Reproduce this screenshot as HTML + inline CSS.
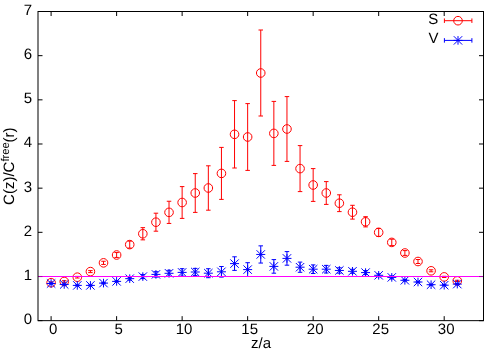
<!DOCTYPE html>
<html><head><meta charset="utf-8"><title>plot</title>
<style>html,body{margin:0;padding:0;background:#fff;}svg{display:block;will-change:transform;}text{font-family:"Liberation Sans",sans-serif;font-size:15px;fill:#000;text-rendering:geometricPrecision;}</style>
</head><body>
<svg width="500" height="350" viewBox="0 0 500 350">
<rect x="0" y="0" width="500" height="350" fill="#fff"/>
<g stroke="#000" stroke-width="1" fill="none">
<path d="M38.00,320.65h4.5 M483.50,320.65h-4.5"/>
<path d="M38.00,276.49h4.5 M483.50,276.49h-4.5"/>
<path d="M38.00,232.32h4.5 M483.50,232.32h-4.5"/>
<path d="M38.00,188.16h4.5 M483.50,188.16h-4.5"/>
<path d="M38.00,143.99h4.5 M483.50,143.99h-4.5"/>
<path d="M38.00,99.83h4.5 M483.50,99.83h-4.5"/>
<path d="M38.00,55.66h4.5 M483.50,55.66h-4.5"/>
<path d="M38.00,11.50h4.5 M483.50,11.50h-4.5"/>
<path d="M51.10,320.65v-4.5 M51.10,11.50v4.5"/>
<path d="M116.62,320.65v-4.5 M116.62,11.50v4.5"/>
<path d="M182.13,320.65v-4.5 M182.13,11.50v4.5"/>
<path d="M247.65,320.65v-4.5 M247.65,11.50v4.5"/>
<path d="M313.16,320.65v-4.5 M313.16,11.50v4.5"/>
<path d="M378.68,320.65v-4.5 M378.68,11.50v4.5"/>
<path d="M444.19,320.65v-4.5 M444.19,11.50v4.5"/>
</g>
<text x="32.1" y="324.15" text-anchor="end">0</text>
<text x="32.1" y="279.99" text-anchor="end">1</text>
<text x="32.1" y="235.82" text-anchor="end">2</text>
<text x="32.1" y="191.66" text-anchor="end">3</text>
<text x="32.1" y="147.49" text-anchor="end">4</text>
<text x="32.1" y="103.33" text-anchor="end">5</text>
<text x="32.1" y="59.16" text-anchor="end">6</text>
<text x="32.1" y="15.00" text-anchor="end">7</text>
<text x="53.10" y="334.2" text-anchor="middle">0</text>
<text x="118.62" y="334.2" text-anchor="middle">5</text>
<text x="184.13" y="334.2" text-anchor="middle">10</text>
<text x="249.65" y="334.2" text-anchor="middle">15</text>
<text x="315.16" y="334.2" text-anchor="middle">20</text>
<text x="380.68" y="334.2" text-anchor="middle">25</text>
<text x="446.19" y="334.2" text-anchor="middle">30</text>
<text x="261" y="348.2" text-anchor="middle">z/a</text>
<text transform="translate(13.8,204.9) rotate(-90)">C(z)/C<tspan font-size="11.3px" dy="-5">free</tspan><tspan dy="5" dx="-0.5">(r)</tspan></text>
<text x="438.2" y="24" text-anchor="end">S</text>
<text x="438.5" y="43.4" text-anchor="end">V</text>
<g stroke="#f00" stroke-width="1" fill="none">
<path d="M444.4,20.7H471.9 M444.4,18.45v4.5 M471.9,18.45v4.5"/>
<circle cx="458.00" cy="20.70" r="4.3"/>
<path d="M51.10,281.90V283.50 M48.85,281.90h4.5 M48.85,283.50h4.5"/>
<circle cx="51.10" cy="282.70" r="4.3"/>
<path d="M64.21,280.70V282.30 M61.96,280.70h4.5 M61.96,282.30h4.5"/>
<circle cx="64.21" cy="281.50" r="4.3"/>
<path d="M77.31,276.40V278.00 M75.06,276.40h4.5 M75.06,278.00h4.5"/>
<circle cx="77.31" cy="277.20" r="4.3"/>
<path d="M90.41,270.60V272.60 M88.16,270.60h4.5 M88.16,272.60h4.5"/>
<circle cx="90.41" cy="271.60" r="4.3"/>
<path d="M103.51,261.25V264.45 M101.26,261.25h4.5 M101.26,264.45h4.5"/>
<circle cx="103.51" cy="262.85" r="4.3"/>
<path d="M116.62,252.55V257.45 M114.37,252.55h4.5 M114.37,257.45h4.5"/>
<circle cx="116.62" cy="255.00" r="4.3"/>
<path d="M129.72,241.10V248.10 M127.47,241.10h4.5 M127.47,248.10h4.5"/>
<circle cx="129.72" cy="244.60" r="4.3"/>
<path d="M142.82,227.65V239.85 M140.57,227.65h4.5 M140.57,239.85h4.5"/>
<circle cx="142.82" cy="233.75" r="4.3"/>
<path d="M155.93,213.20V231.20 M153.68,213.20h4.5 M153.68,231.20h4.5"/>
<circle cx="155.93" cy="222.20" r="4.3"/>
<path d="M169.03,201.25V223.45 M166.78,201.25h4.5 M166.78,223.45h4.5"/>
<circle cx="169.03" cy="212.35" r="4.3"/>
<path d="M182.13,186.60V218.40 M179.88,186.60h4.5 M179.88,218.40h4.5"/>
<circle cx="182.13" cy="202.50" r="4.3"/>
<path d="M195.24,173.60V212.40 M192.99,173.60h4.5 M192.99,212.40h4.5"/>
<circle cx="195.24" cy="193.00" r="4.3"/>
<path d="M208.34,165.80V210.20 M206.09,165.80h4.5 M206.09,210.20h4.5"/>
<circle cx="208.34" cy="188.00" r="4.3"/>
<path d="M221.44,147.40V199.40 M219.19,147.40h4.5 M219.19,199.40h4.5"/>
<circle cx="221.44" cy="173.40" r="4.3"/>
<path d="M234.54,100.60V168.00 M232.29,100.60h4.5 M232.29,168.00h4.5"/>
<circle cx="234.54" cy="134.30" r="4.3"/>
<path d="M247.65,103.60V170.40 M245.40,103.60h4.5 M245.40,170.40h4.5"/>
<circle cx="247.65" cy="137.00" r="4.3"/>
<path d="M260.75,30.00V116.00 M258.50,30.00h4.5 M258.50,116.00h4.5"/>
<circle cx="260.75" cy="73.00" r="4.3"/>
<path d="M273.85,101.40V165.40 M271.60,101.40h4.5 M271.60,165.40h4.5"/>
<circle cx="273.85" cy="133.40" r="4.3"/>
<path d="M286.96,96.60V161.40 M284.71,96.60h4.5 M284.71,161.40h4.5"/>
<circle cx="286.96" cy="129.00" r="4.3"/>
<path d="M300.06,145.60V191.60 M297.81,145.60h4.5 M297.81,191.60h4.5"/>
<circle cx="300.06" cy="168.60" r="4.3"/>
<path d="M313.16,168.60V201.40 M310.91,168.60h4.5 M310.91,201.40h4.5"/>
<circle cx="313.16" cy="185.00" r="4.3"/>
<path d="M326.26,181.60V204.40 M324.01,181.60h4.5 M324.01,204.40h4.5"/>
<circle cx="326.26" cy="193.00" r="4.3"/>
<path d="M339.37,194.80V211.60 M337.12,194.80h4.5 M337.12,211.60h4.5"/>
<circle cx="339.37" cy="203.20" r="4.3"/>
<path d="M352.47,205.30V219.10 M350.22,205.30h4.5 M350.22,219.10h4.5"/>
<circle cx="352.47" cy="212.20" r="4.3"/>
<path d="M365.57,216.70V226.90 M363.32,216.70h4.5 M363.32,226.90h4.5"/>
<circle cx="365.57" cy="221.80" r="4.3"/>
<path d="M378.68,228.40V236.40 M376.43,228.40h4.5 M376.43,236.40h4.5"/>
<circle cx="378.68" cy="232.40" r="4.3"/>
<path d="M391.78,239.20V245.60 M389.53,239.20h4.5 M389.53,245.60h4.5"/>
<circle cx="391.78" cy="242.40" r="4.3"/>
<path d="M404.88,250.60V255.40 M402.63,250.60h4.5 M402.63,255.40h4.5"/>
<circle cx="404.88" cy="253.00" r="4.3"/>
<path d="M417.99,259.50V263.50 M415.74,259.50h4.5 M415.74,263.50h4.5"/>
<circle cx="417.99" cy="261.50" r="4.3"/>
<path d="M431.09,269.80V271.80 M428.84,269.80h4.5 M428.84,271.80h4.5"/>
<circle cx="431.09" cy="270.80" r="4.3"/>
<path d="M444.19,276.30V277.50 M441.94,276.30h4.5 M441.94,277.50h4.5"/>
<circle cx="444.19" cy="276.90" r="4.3"/>
<path d="M457.29,280.30V281.50 M455.04,280.30h4.5 M455.04,281.50h4.5"/>
<circle cx="457.29" cy="280.90" r="4.3"/>
</g>
<g stroke="#00f" stroke-width="1" fill="none">
<path d="M444.4,40.4H471.9 M444.4,38.15v4.5 M471.9,38.15v4.5"/>
<path d="M453.50,40.40h9.0 M458.00,36.10v8.6 M453.80,36.20l8.4,8.4 M453.80,44.60l8.4,-8.4"/>
<path d="M51.10,282.90V284.10 M48.85,282.90h4.5 M48.85,284.10h4.5"/>
<path d="M46.60,283.50h9.0 M51.10,279.20v8.6 M46.90,279.30l8.4,8.4 M46.90,287.70l8.4,-8.4"/>
<path d="M64.21,283.85V285.05 M61.96,283.85h4.5 M61.96,285.05h4.5"/>
<path d="M59.71,284.45h9.0 M64.21,280.15v8.6 M60.01,280.25l8.4,8.4 M60.01,288.65l8.4,-8.4"/>
<path d="M77.31,284.90V285.90 M75.06,284.90h4.5 M75.06,285.90h4.5"/>
<path d="M72.81,285.40h9.0 M77.31,281.10v8.6 M73.11,281.20l8.4,8.4 M73.11,289.60l8.4,-8.4"/>
<path d="M90.41,284.90V285.90 M88.16,284.90h4.5 M88.16,285.90h4.5"/>
<path d="M85.91,285.40h9.0 M90.41,281.10v8.6 M86.21,281.20l8.4,8.4 M86.21,289.60l8.4,-8.4"/>
<path d="M103.51,282.60V283.60 M101.26,282.60h4.5 M101.26,283.60h4.5"/>
<path d="M99.01,283.10h9.0 M103.51,278.80v8.6 M99.31,278.90l8.4,8.4 M99.31,287.30l8.4,-8.4"/>
<path d="M116.62,280.90V281.90 M114.37,280.90h4.5 M114.37,281.90h4.5"/>
<path d="M112.12,281.40h9.0 M116.62,277.10v8.6 M112.42,277.20l8.4,8.4 M112.42,285.60l8.4,-8.4"/>
<path d="M129.72,277.15V280.15 M127.47,277.15h4.5 M127.47,280.15h4.5"/>
<path d="M125.22,278.65h9.0 M129.72,274.35v8.6 M125.52,274.45l8.4,8.4 M125.52,282.85l8.4,-8.4"/>
<path d="M142.82,274.60V278.60 M140.57,274.60h4.5 M140.57,278.60h4.5"/>
<path d="M138.32,276.60h9.0 M142.82,272.30v8.6 M138.62,272.40l8.4,8.4 M138.62,280.80l8.4,-8.4"/>
<path d="M155.93,271.70V277.10 M153.68,271.70h4.5 M153.68,277.10h4.5"/>
<path d="M151.43,274.40h9.0 M155.93,270.10v8.6 M151.73,270.20l8.4,8.4 M151.73,278.60l8.4,-8.4"/>
<path d="M169.03,270.30V276.30 M166.78,270.30h4.5 M166.78,276.30h4.5"/>
<path d="M164.53,273.30h9.0 M169.03,269.00v8.6 M164.83,269.10l8.4,8.4 M164.83,277.50l8.4,-8.4"/>
<path d="M182.13,268.70V276.10 M179.88,268.70h4.5 M179.88,276.10h4.5"/>
<path d="M177.63,272.40h9.0 M182.13,268.10v8.6 M177.93,268.20l8.4,8.4 M177.93,276.60l8.4,-8.4"/>
<path d="M195.24,268.40V275.60 M192.99,268.40h4.5 M192.99,275.60h4.5"/>
<path d="M190.74,272.00h9.0 M195.24,267.70v8.6 M191.04,267.80l8.4,8.4 M191.04,276.20l8.4,-8.4"/>
<path d="M208.34,268.70V277.70 M206.09,268.70h4.5 M206.09,277.70h4.5"/>
<path d="M203.84,273.20h9.0 M208.34,268.90v8.6 M204.14,269.00l8.4,8.4 M204.14,277.40l8.4,-8.4"/>
<path d="M221.44,266.50V277.10 M219.19,266.50h4.5 M219.19,277.10h4.5"/>
<path d="M216.94,271.80h9.0 M221.44,267.50v8.6 M217.24,267.60l8.4,8.4 M217.24,276.00l8.4,-8.4"/>
<path d="M234.54,256.80V270.40 M232.29,256.80h4.5 M232.29,270.40h4.5"/>
<path d="M230.04,263.60h9.0 M234.54,259.30v8.6 M230.34,259.40l8.4,8.4 M230.34,267.80l8.4,-8.4"/>
<path d="M247.65,262.70V276.50 M245.40,262.70h4.5 M245.40,276.50h4.5"/>
<path d="M243.15,269.60h9.0 M247.65,265.30v8.6 M243.45,265.40l8.4,8.4 M243.45,273.80l8.4,-8.4"/>
<path d="M260.75,245.85V263.05 M258.50,245.85h4.5 M258.50,263.05h4.5"/>
<path d="M256.25,254.45h9.0 M260.75,250.15v8.6 M256.55,250.25l8.4,8.4 M256.55,258.65l8.4,-8.4"/>
<path d="M273.85,259.60V273.20 M271.60,259.60h4.5 M271.60,273.20h4.5"/>
<path d="M269.35,266.40h9.0 M273.85,262.10v8.6 M269.65,262.20l8.4,8.4 M269.65,270.60l8.4,-8.4"/>
<path d="M286.96,251.60V265.20 M284.71,251.60h4.5 M284.71,265.20h4.5"/>
<path d="M282.46,258.40h9.0 M286.96,254.10v8.6 M282.76,254.20l8.4,8.4 M282.76,262.60l8.4,-8.4"/>
<path d="M300.06,262.10V272.30 M297.81,262.10h4.5 M297.81,272.30h4.5"/>
<path d="M295.56,267.20h9.0 M300.06,262.90v8.6 M295.86,263.00l8.4,8.4 M295.86,271.40l8.4,-8.4"/>
<path d="M313.16,264.90V273.50 M310.91,264.90h4.5 M310.91,273.50h4.5"/>
<path d="M308.66,269.20h9.0 M313.16,264.90v8.6 M308.96,265.00l8.4,8.4 M308.96,273.40l8.4,-8.4"/>
<path d="M326.26,265.40V273.00 M324.01,265.40h4.5 M324.01,273.00h4.5"/>
<path d="M321.76,269.20h9.0 M326.26,264.90v8.6 M322.06,265.00l8.4,8.4 M322.06,273.40l8.4,-8.4"/>
<path d="M339.37,267.75V273.15 M337.12,267.75h4.5 M337.12,273.15h4.5"/>
<path d="M334.87,270.45h9.0 M339.37,266.15v8.6 M335.17,266.25l8.4,8.4 M335.17,274.65l8.4,-8.4"/>
<path d="M352.47,269.30V273.30 M350.22,269.30h4.5 M350.22,273.30h4.5"/>
<path d="M347.97,271.30h9.0 M352.47,267.00v8.6 M348.27,267.10l8.4,8.4 M348.27,275.50l8.4,-8.4"/>
<path d="M365.57,270.60V274.60 M363.32,270.60h4.5 M363.32,274.60h4.5"/>
<path d="M361.07,272.60h9.0 M365.57,268.30v8.6 M361.37,268.40l8.4,8.4 M361.37,276.80l8.4,-8.4"/>
<path d="M378.68,273.80V276.80 M376.43,273.80h4.5 M376.43,276.80h4.5"/>
<path d="M374.18,275.30h9.0 M378.68,271.00v8.6 M374.48,271.10l8.4,8.4 M374.48,279.50l8.4,-8.4"/>
<path d="M391.78,275.90V278.90 M389.53,275.90h4.5 M389.53,278.90h4.5"/>
<path d="M387.28,277.40h9.0 M391.78,273.10v8.6 M387.58,273.20l8.4,8.4 M387.58,281.60l8.4,-8.4"/>
<path d="M404.88,279.50V281.10 M402.63,279.50h4.5 M402.63,281.10h4.5"/>
<path d="M400.38,280.30h9.0 M404.88,276.00v8.6 M400.68,276.10l8.4,8.4 M400.68,284.50l8.4,-8.4"/>
<path d="M417.99,281.30V282.70 M415.74,281.30h4.5 M415.74,282.70h4.5"/>
<path d="M413.49,282.00h9.0 M417.99,277.70v8.6 M413.79,277.80l8.4,8.4 M413.79,286.20l8.4,-8.4"/>
<path d="M431.09,284.10V285.30 M428.84,284.10h4.5 M428.84,285.30h4.5"/>
<path d="M426.59,284.70h9.0 M431.09,280.40v8.6 M426.89,280.50l8.4,8.4 M426.89,288.90l8.4,-8.4"/>
<path d="M444.19,284.60V285.80 M441.94,284.60h4.5 M441.94,285.80h4.5"/>
<path d="M439.69,285.20h9.0 M444.19,280.90v8.6 M439.99,281.00l8.4,8.4 M439.99,289.40l8.4,-8.4"/>
<path d="M457.29,283.50V284.70 M455.04,283.50h4.5 M455.04,284.70h4.5"/>
<path d="M452.79,284.10h9.0 M457.29,279.80v8.6 M453.09,279.90l8.4,8.4 M453.09,288.30l8.4,-8.4"/>
</g>
<path d="M38.00,276.5H483.50" stroke="#f0f" stroke-width="1" fill="none"/>
<path d="M38.00,276.6h4.5 M483.50,276.6h-4.5" stroke="#000" stroke-opacity="0.35" stroke-width="1" fill="none"/>
<rect x="38.0" y="11.5" width="445.5" height="309.15" fill="none" stroke="#000" stroke-width="1"/>
</svg>
</body></html>
